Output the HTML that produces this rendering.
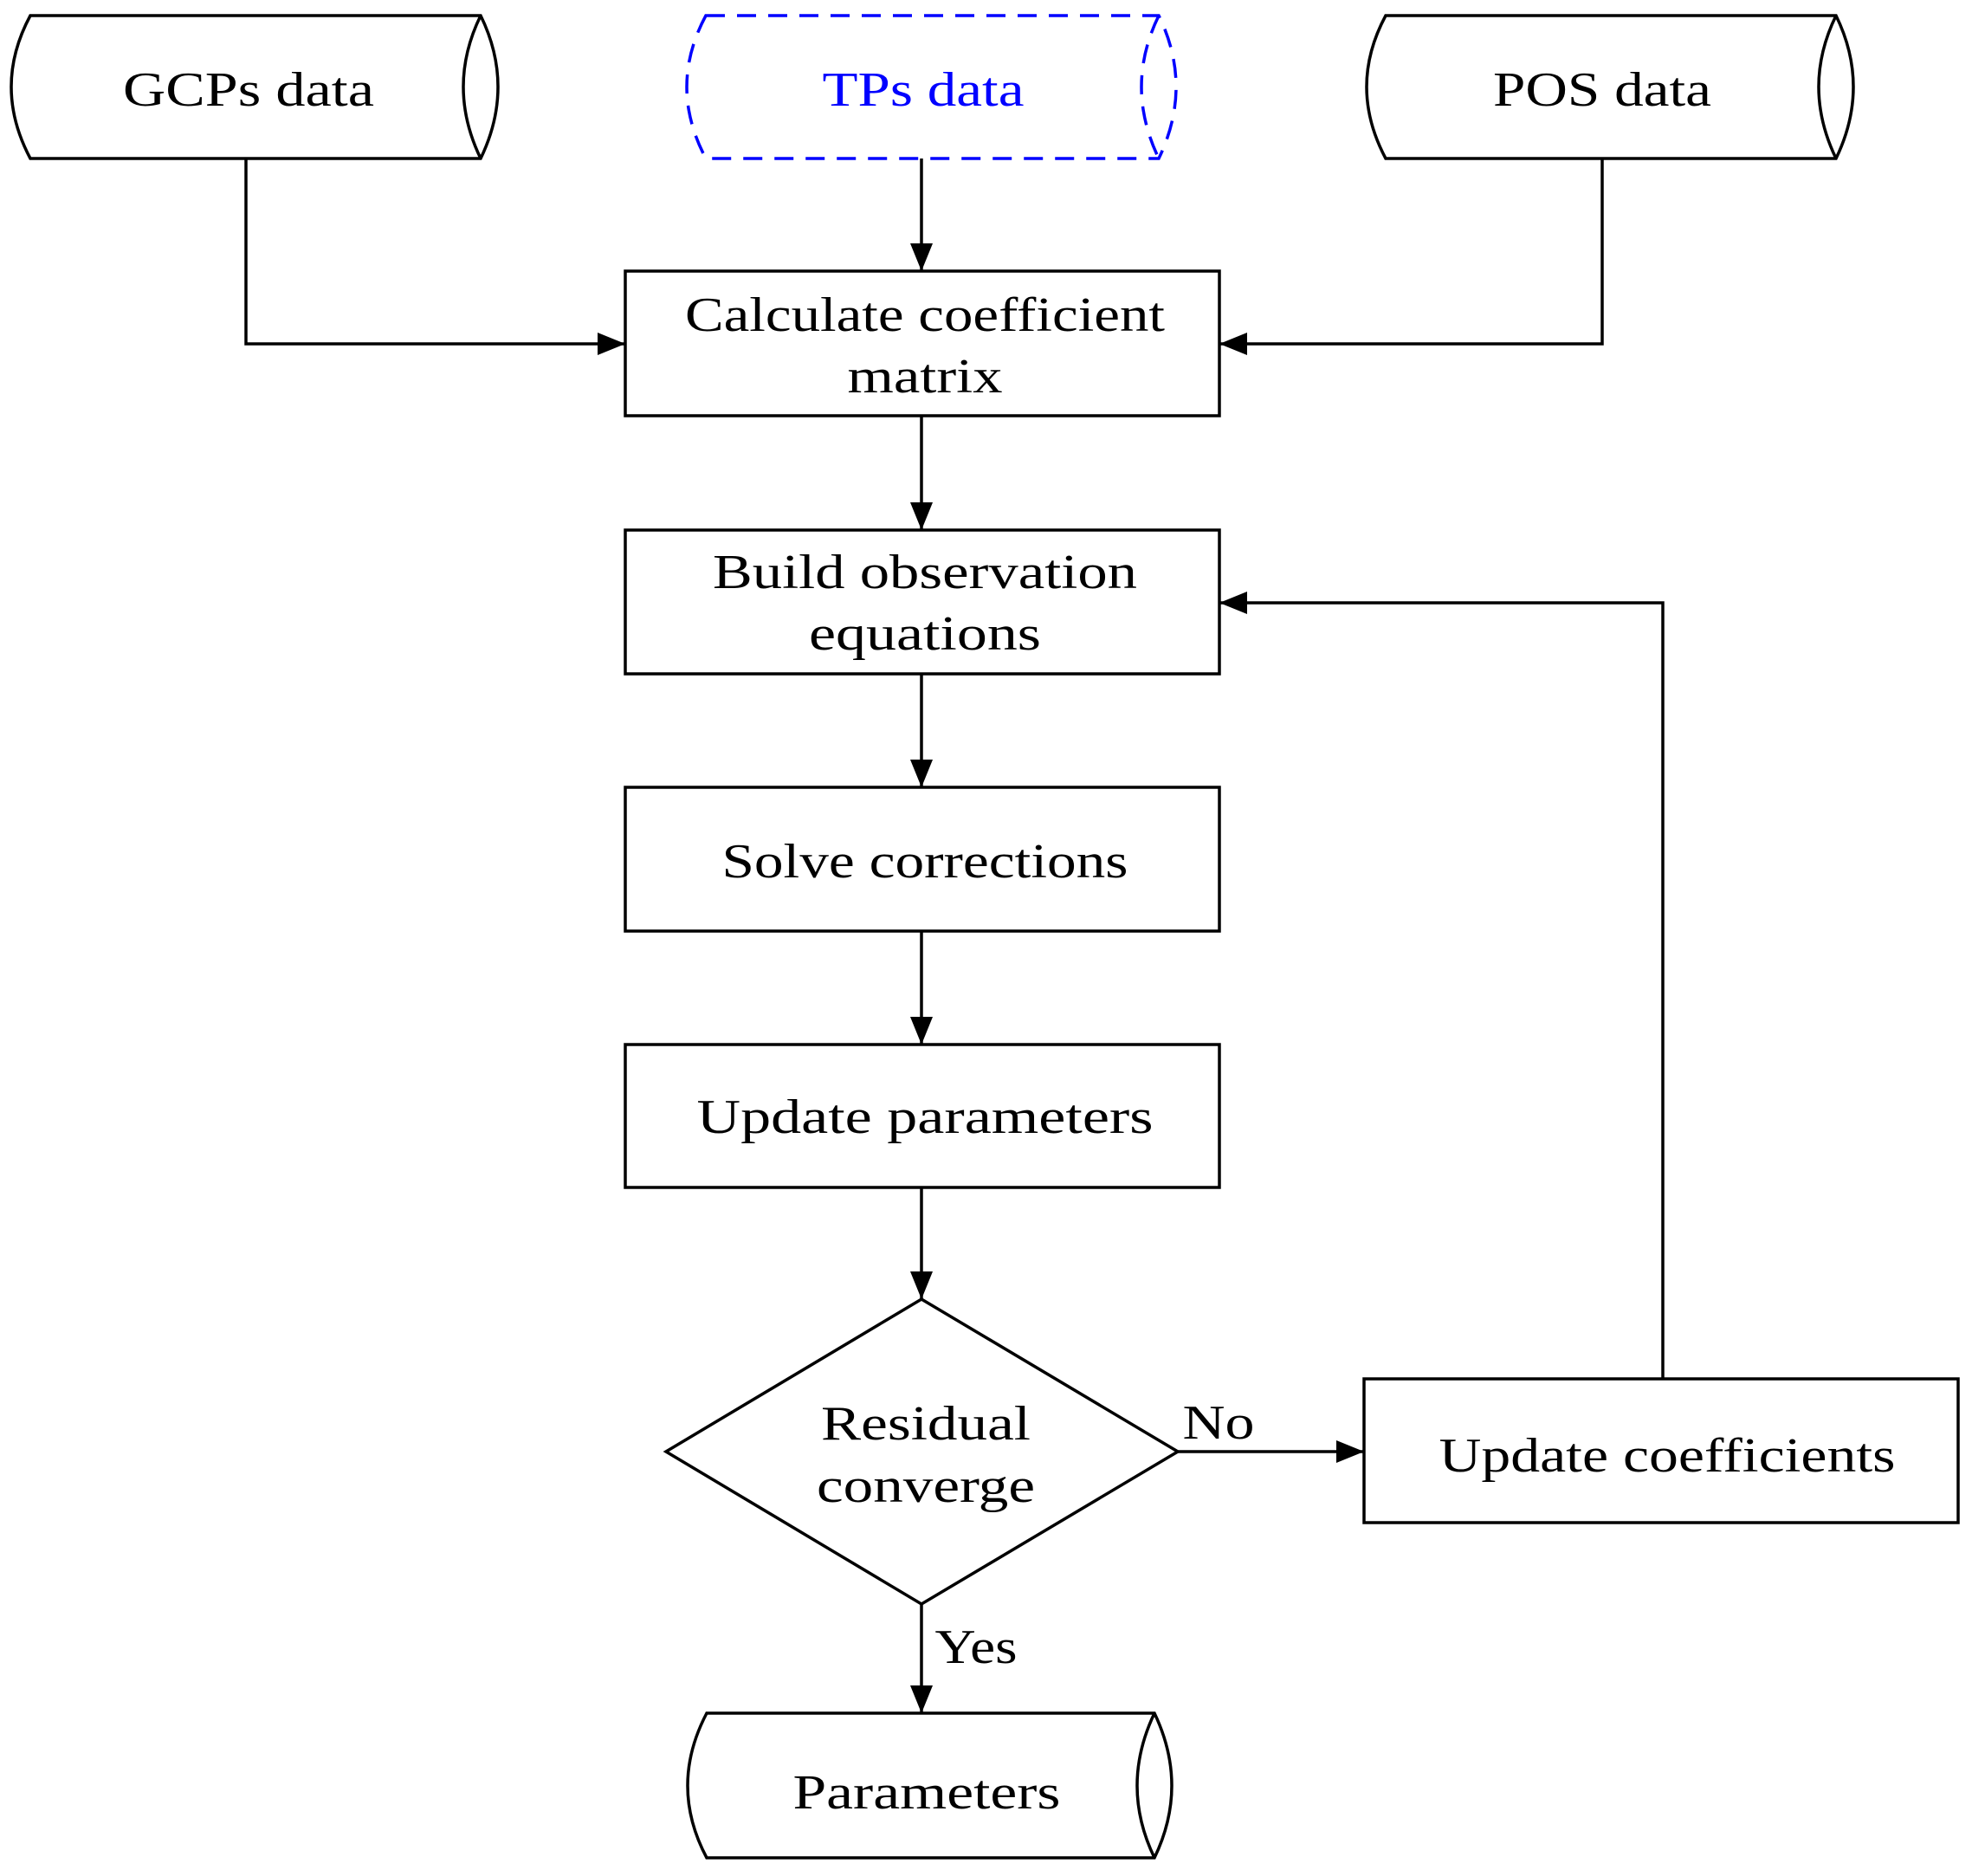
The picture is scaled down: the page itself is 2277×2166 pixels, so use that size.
<!DOCTYPE html>
<html><head><meta charset="utf-8"><style>html,body{margin:0;padding:0;background:#fff}svg{display:block}</style></head><body>
<svg width="2277" height="2166" viewBox="0 0 2277 2166" xmlns="http://www.w3.org/2000/svg" font-family="Liberation Serif, serif" font-size="56">
<defs>
<marker id="b" markerWidth="32" markerHeight="26" refX="32" refY="13" orient="auto" markerUnits="userSpaceOnUse"><path d="M0,0L32,13L0,26z" fill="#000"/></marker></defs>
<g fill="none" stroke="#000" stroke-width="3.5">
<path d="M35,18H555Q595,100 555,183H35Q-9,100 35,18Z"/><path d="M555,18Q515,100 555,183"/>
<path d="M1600,18H2120Q2160,100 2120,183H1600Q1556,100 1600,18Z"/><path d="M2120,18Q2080,100 2120,183"/>
<g stroke="#00f" stroke-dasharray="22,14"><path d="M815,18H1338Q1378,100 1338,183H815Q771,100 815,18Z"/><path d="M1338,18Q1298,100 1338,183"/></g>
<path d="M816,1978H1333Q1373,2062 1333,2145H816Q772,2062 816,1978Z"/><path d="M1333,1978Q1293,2062 1333,2145"/>
<rect x="722" y="313" width="686" height="167"/>
<rect x="722" y="612" width="686" height="166"/>
<rect x="722" y="909" width="686" height="166"/>
<rect x="722" y="1206" width="686" height="165"/>
<rect x="1575" y="1592" width="686" height="166"/>
<path d="M1064,1500L1360,1676L1064,1852L769,1676Z"/>
<g marker-end="url(#b)">
<path d="M284,183V397H722"/>
<path d="M1064,183V313"/>
<path d="M1850,183V397H1408"/>
<path d="M1064,480V612"/>
<path d="M1064,778V909"/>
<path d="M1064,1075V1206"/>
<path d="M1064,1371V1500"/>
<path d="M1360,1676H1575"/>
<path d="M1064,1852V1978"/>
<path d="M1920,1592V696H1408"/>
</g></g>
<g text-anchor="middle" fill="#000" lengthAdjust="spacingAndGlyphs">
<text x="287" y="122" textLength="290" lengthAdjust="spacingAndGlyphs">GCPs data</text>
<text x="1066" y="122" fill="#00f" textLength="233" lengthAdjust="spacingAndGlyphs">TPs data</text>
<text x="1850" y="122" textLength="252" lengthAdjust="spacingAndGlyphs">POS data</text>
<text x="1068" y="382" textLength="554" lengthAdjust="spacingAndGlyphs">Calculate coefficient</text>
<text x="1068" y="453" textLength="179" lengthAdjust="spacingAndGlyphs">matrix</text>
<text x="1068" y="679" textLength="490" lengthAdjust="spacingAndGlyphs">Build observation</text>
<text x="1068" y="750" textLength="268" lengthAdjust="spacingAndGlyphs">equations</text>
<text x="1068" y="1013" textLength="469" lengthAdjust="spacingAndGlyphs">Solve corrections</text>
<text x="1068" y="1308" textLength="527" lengthAdjust="spacingAndGlyphs">Update parameters</text>
<text x="1069" y="1662" textLength="242" lengthAdjust="spacingAndGlyphs">Residual</text>
<text x="1069" y="1734" textLength="252" lengthAdjust="spacingAndGlyphs">converge</text>
<text x="1925" y="1699" textLength="527" lengthAdjust="spacingAndGlyphs">Update coefficients</text>
<text x="1070" y="2088" textLength="309" lengthAdjust="spacingAndGlyphs">Parameters</text>
<text x="1407" y="1661" textLength="83" lengthAdjust="spacingAndGlyphs">No</text>
<text x="1127" y="1920" textLength="95" lengthAdjust="spacingAndGlyphs">Yes</text>
</g>
</svg>
</body></html>
